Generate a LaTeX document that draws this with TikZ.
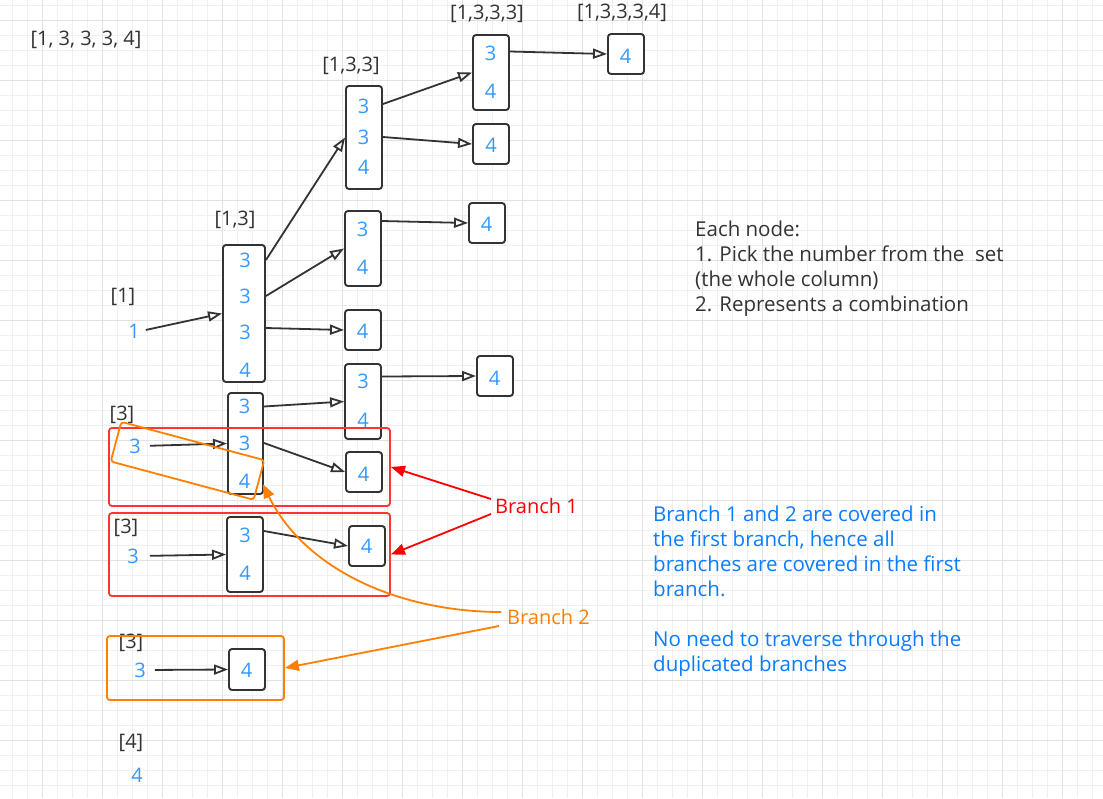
\documentclass[tikz,border=0pt]{standalone}
\usepackage{fontspec}
\setmainfont{Open Sans}
\usetikzlibrary{arrows.meta,calc}
\definecolor{dk}{HTML}{333333}
\definecolor{numblue}{HTML}{3399FF}
\definecolor{tblue}{HTML}{0A7CFF}
\definecolor{rrect}{HTML}{FF3333}
\definecolor{rarr}{HTML}{FF0000}
\definecolor{orng}{HTML}{FF8000}
\definecolor{gmin}{HTML}{F0F0F0}
\definecolor{gmaj}{HTML}{E2E2E2}
\begin{document}
\begin{tikzpicture}[x=1pt,y=-1pt,
  box/.style={draw=dk, line width=1.9pt, rounded corners=3pt, fill=white, inner sep=0pt, minimum width=36pt},
  num/.style={text=numblue, font=\fontsize{20}{20}\selectfont, inner sep=1pt},
  lab/.style={text=dk, font=\fontsize{20}{20}\selectfont, inner sep=0pt},
  arr/.style={draw=dk, line width=1.8pt, -{Triangle[open,length=14pt,width=10pt]}},
  frame/.style={line width=1.8pt, rounded corners=3pt, inner sep=0pt},
  redarr/.style={draw=rarr, line width=1.8pt, -{Triangle[length=14pt,width=11pt]}},
  orarr/.style={draw=orng, line width=1.8pt, -{Triangle[length=14pt,width=11pt]}},
  note/.style={anchor=north west, inner sep=0pt, align=left, font=\fontsize{20.5}{25}\selectfont}
]
\useasboundingbox (0,0) rectangle (1103,798);
\fill[white] (0,0) rectangle (1103,798);
% grid
\foreach \x in {12,27,...,1097} \draw[gmin, line width=1pt] (\x,0) -- (\x,798);
\foreach \y in {5,20,...,795} \draw[gmin, line width=1pt] (0,\y) -- (1103,\y);
\foreach \x in {42,102,...,1062} \draw[gmaj, line width=1pt] (\x,0) -- (\x,798);
\foreach \y in {20,80,...,740} \draw[gmaj, line width=1pt] (0,\y) -- (1103,\y);

% labels
\node[lab] (L0) at (86,40) {[1, 3, 3, 3, 4]};
\node[lab] (L1333) at (487,14) {[1,3,3,3]};
\node[lab] (L13334) at (622,13) {[1,3,3,3,4]};
\node[lab] (L133) at (351,66) {[1,3,3]};
\node[lab] (L13) at (235,220) {[1,3]};
\node[lab] (L1) at (123,297) {[1]};
\node[lab] (L3a) at (122,415) {[3]};
\node[lab] (L3b) at (126,528) {[3]};
\node[lab] (L3c) at (131,643) {[3]};
\node[lab] (L4) at (131,743) {[4]};

% boxes
\node[box, minimum width=42pt, minimum height=137pt] (b13) at (244,313.5) {};
\node[box, minimum height=103pt] (b133) at (364,137.5) {};
\node[box, minimum height=75pt] (b1333) at (491,72.5) {};
\node[box, minimum height=40pt] (b13334) at (626,54) {};
\node[box, minimum height=40pt] (b1334) at (491,144) {};
\node[box, minimum height=75pt] (bA) at (363,248.5) {};
\node[box, minimum height=40pt] (bA4) at (487,223) {};
\node[box, minimum height=40pt] (bC4) at (363,330) {};
\node[box, minimum height=75pt] (bB) at (363,401.5) {};
\node[box, minimum height=40pt] (bB4) at (495,376) {};
\node[box, minimum width=35pt, minimum height=101pt] (b3) at (245.5,443.5) {};
\node[box, minimum height=40pt] (b3C4) at (364,472) {};
\node[box, minimum height=75pt] (c3) at (245,554.5) {};
\node[box, minimum height=40pt] (c34) at (367,546) {};
\node[box, minimum height=41pt] (d4) at (247,669.5) {};

% numbers
\node[num] (n1) at (134,331) {1};
\node[num] (n13a) at (245,260) {3};
\node[num] (n13b) at (245,296) {3};
\node[num] (n13c) at (245,332) {3};
\node[num] (n13d) at (245,370) {4};
\node[num] (n133a) at (363.5,106) {3};
\node[num] (n133b) at (363.5,137) {3};
\node[num] (n133c) at (363.5,167.5) {4};
\node[num] (n1333a) at (490.5,53.5) {3};
\node[num] (n1333b) at (490.5,91) {4};
\node[num] (n13334) at (625.5,56) {4};
\node[num] (n1334) at (491,145) {4};
\node[num] (nAa) at (362.7,229) {3};
\node[num] (nAb) at (362.7,267) {4};
\node[num] (nA4) at (486.7,224) {4};
\node[num] (nC4) at (362.7,331.5) {4};
\node[num] (nBa) at (363,381.5) {3};
\node[num] (nBb) at (363,420) {4};
\node[num] (nB4) at (494.5,378) {4};
\node[num] (m3) at (135,446) {3};
\node[num] (n3a) at (244.5,406.5) {3};
\node[num] (n3b) at (244.5,443) {3};
\node[num] (n3c) at (244.5,481) {4};
\node[num] (n3C4) at (363.5,474) {4};
\node[num] (m3b) at (133,556) {3};
\node[num] (c3a) at (245,535) {3};
\node[num] (c3b) at (245,573.3) {4};
\node[num] (c34n) at (366.7,546.5) {4};
\node[num] (m3c) at (140,670) {3};
\node[num] (d4n) at (246.7,670.5) {4};
\node[num] (m4) at (137,775) {4};

% arrows
\draw[arr, shorten <=5pt] (n1.east) -- (b13.west);
\draw[arr] (b13.east |- n13a) -- (b133.west);
\draw[arr] (b13.east |- n13b) -- (bA.west);
\draw[arr] ([yshift=4pt]b13.east |- n13c) -- (bC4.west);
\draw[arr] ([yshift=2pt]b133.east |- n133a) -- (b1333.west);
\draw[arr] (b133.east |- n133b) -- (b1334.west);
\draw[arr] ([yshift=2pt]b1333.east |- n1333a) -- (b13334.west);
\draw[arr] ([yshift=8pt]bA.east |- nAa) -- (bA4.west);
\draw[arr] ([yshift=5pt]bB.east |- nBa) -- (bB4.west);
\draw[arr] (b3.east |- n3a) -- (bB.west);
\draw[arr, shorten <=8pt] (m3.east) -- (b3.west);
\draw[arr] (b3.east |- n3b) -- (b3C4.west);
\draw[arr, shorten <=10pt] (m3b.east) -- (c3.west);
\draw[arr] ([yshift=4pt]c3.east |- c3a) -- (c34.west);
\draw[arr, shorten <=8pt] (m3c.east) -- (d4.west);

% red frames
\node[frame, draw=rrect, minimum width=281pt, minimum height=78pt] (r1) at (249.5,467) {};
\node[frame, draw=rrect, minimum width=281pt, minimum height=83pt] (r2) at (249.5,554.5) {};
% orange frames
\node[frame, draw=orng, minimum width=148pt, minimum height=41pt, rotate=-15] (orot) at (187.5,460.8) {};
\node[frame, draw=orng, minimum width=177pt, minimum height=64pt] (o3) at (195.5,668) {};

% branch labels
\node[text=rarr, anchor=base west, inner sep=0pt, font=\fontsize{20}{20}\selectfont] (br1) at (495,513.5) {Branch 1};
\node[text=orng, anchor=base west, inner sep=0pt, font=\fontsize{20}{20}\selectfont] (br2) at (507,624.5) {Branch 2};
\draw[redarr] ([shift={(-4,-7)}]br1.west) -- (r1.east);
\draw[redarr] ([shift={(-4,8)}]br1.west) -- (r2.east);
\draw[orarr] ([shift={(-6,-5)}]br2.west) .. controls (400,612) and (305,570) .. ([shift={(3,4)}]orot.east);
\draw[orarr] ([shift={(-8,9)}]br2.west) -- (o3.east);

% notes
\node[note, text=dk] (note1) at (695,221) {Each node:\\1. Pick the number from the\ \ set\\(the whole column)\\2. Represents a combination};
\node[note, text=tblue] (note2) at (653,506) {Branch 1 and 2 are covered in\\the first branch, hence all\\branches are covered in the first\\branch.\\[25pt]No need to traverse through the\\duplicated branches};
\end{tikzpicture}
\end{document}
